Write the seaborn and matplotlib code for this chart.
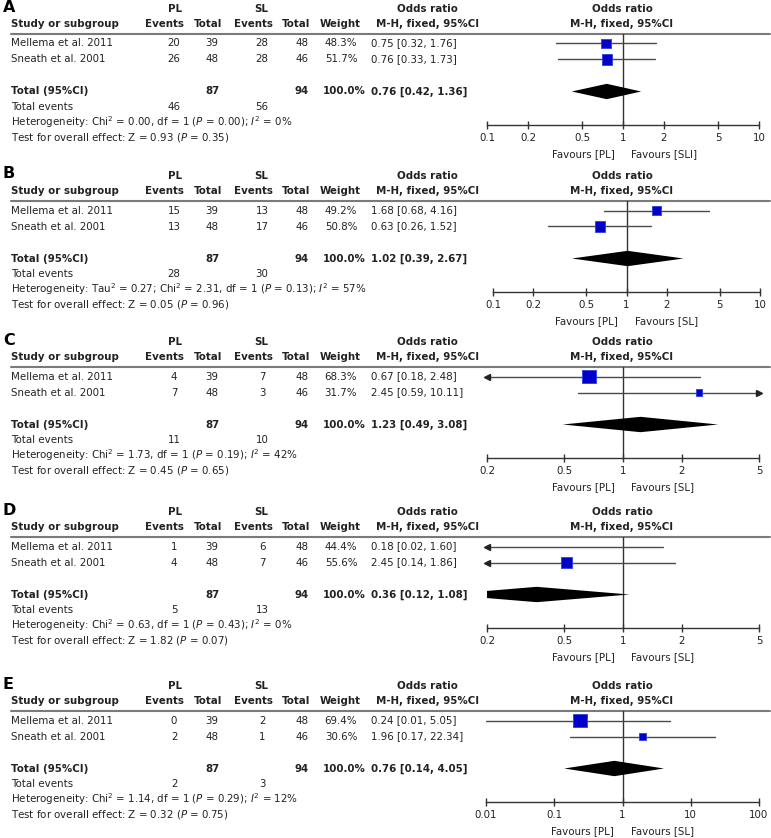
import numpy as np
import pandas as pd
import seaborn as sns
import matplotlib.pyplot as plt
from matplotlib.ticker import FixedLocator, FixedFormatter, NullLocator

# -------- data --------
panels = ["A", "B", "C", "D", "E"]
studies = ["Mellema et al. 2011", "Sneath et al. 2001"]
pl_total = [39, 48]
sl_total = [48, 46]
pl_events = [[20, 26], [15, 13], [4, 7], [1, 4], [0, 2]]
sl_events = [[28, 28], [13, 17], [7, 3], [6, 7], [2, 1]]
weights = [[48.3, 51.7], [49.2, 50.8], [68.3, 31.7], [44.4, 55.6], [69.4, 30.6]]
or_est = [[0.75, 0.76], [1.68, 0.63], [0.67, 2.45], [0.18, 0.51], [0.24, 1.96]]
ci_lo = [[0.32, 0.33], [0.68, 0.26], [0.18, 0.59], [0.02, 0.14], [0.01, 0.17]]
ci_hi = [[1.76, 1.73], [4.16, 1.52], [2.48, 10.11], [1.60, 1.86], [5.05, 22.34]]
or_labels = [["0.75 [0.32, 1.76]", "0.76 [0.33, 1.73]"],
             ["1.68 [0.68, 4.16]", "0.63 [0.26, 1.52]"],
             ["0.67 [0.18, 2.48]", "2.45 [0.59, 10.11]"],
             ["0.18 [0.02, 1.60]", "2.45 [0.14, 1.86]"],
             ["0.24 [0.01, 5.05]", "1.96 [0.17, 22.34]"]]
tot_or = [0.76, 1.02, 1.23, 0.36, 0.76]
tot_lo = [0.42, 0.39, 0.49, 0.12, 0.14]
tot_hi = [1.36, 2.67, 3.08, 1.08, 4.05]
tot_events_pl = [46, 28, 11, 5, 2]
tot_events_sl = [56, 30, 10, 13, 3]
n_pl, n_sl = 87, 94
het_text = [
    r"Heterogeneity: Chi$^2$ = 0.00, df = 1 ($\mathit{P}$ = 0.00); $\mathit{I}^2$ = 0%",
    r"Heterogeneity: Tau$^2$ = 0.27; Chi$^2$ = 2.31, df = 1 ($\mathit{P}$ = 0.13); $\mathit{I}^2$ = 57%",
    r"Heterogeneity: Chi$^2$ = 1.73, df = 1 ($\mathit{P}$ = 0.19); $\mathit{I}^2$ = 42%",
    r"Heterogeneity: Chi$^2$ = 0.63, df = 1 ($\mathit{P}$ = 0.43); $\mathit{I}^2$ = 0%",
    r"Heterogeneity: Chi$^2$ = 1.14, df = 1 ($\mathit{P}$ = 0.29); $\mathit{I}^2$ = 12%",
]
test_text = [
    r"Test for overall effect: Z = 0.93 ($\mathit{P}$ = 0.35)",
    r"Test for overall effect: Z = 0.05 ($\mathit{P}$ = 0.96)",
    r"Test for overall effect: Z = 0.45 ($\mathit{P}$ = 0.65)",
    r"Test for overall effect: Z = 1.82 ($\mathit{P}$ = 0.07)",
    r"Test for overall effect: Z = 0.32 ($\mathit{P}$ = 0.75)",
]
fav_right = ["Favours [SLI]", "Favours [SL]", "Favours [SL]", "Favours [SL]", "Favours [SL]"]
xlims = [(0.1, 10), (0.1, 10), (0.2, 5), (0.2, 5), (0.01, 100)]
ticks = [[0.1, 0.2, 0.5, 1, 2, 5, 10], [0.1, 0.2, 0.5, 1, 2, 5, 10],
         [0.2, 0.5, 1, 2, 5], [0.2, 0.5, 1, 2, 5], [0.01, 0.1, 1, 10, 100]]
tick_labels = [["0.1", "0.2", "0.5", "1", "2", "5", "10"], ["0.1", "0.2", "0.5", "1", "2", "5", "10"],
               ["0.2", "0.5", "1", "2", "5"], ["0.2", "0.5", "1", "2", "5"],
               ["0.01", "0.1", "1", "10", "100"]]

# -------- layout (pixels) --------
W, H = 771, 838
line_y = [34, 201, 367, 537, 711]
plot_left = [487, 493, 487, 487, 486]
plot_right = [759, 760, 759, 759, 759]
row0, row_h = 9.5, 16.0
axis_off = 91
FS = 7.4
TXT = "#222222"

sns.set_theme(style="white")
plt.rcParams["font.family"] = ["DejaVu Sans"]
plt.rcParams["mathtext.fontset"] = "dejavusans"

fig = plt.figure(figsize=(W / 100, H / 100), dpi=100)
bg = fig.add_axes([0, 0, 1, 1])
bg.set_xlim(0, W)
bg.set_ylim(H, 0)
bg.axis("off")


def rowy(p, idx):
    return line_y[p] + row0 + row_h * idx


for p, letter in enumerate(panels):
    L = line_y[p]
    kw = dict(fontsize=FS, color=TXT, va="center")
    bkw = dict(kw, fontweight="bold")
    bg.text(3, L - 27, letter, fontsize=11.5, fontweight="bold", va="center", color="black")
    bg.text(175, L - 25, "PL", ha="center", **bkw)
    bg.text(261, L - 25, "SL", ha="center", **bkw)
    bg.text(427, L - 25, "Odds ratio", ha="center", **bkw)
    bg.text(622, L - 25, "Odds ratio", ha="center", **bkw)
    bg.text(11, L - 10, "Study or subgroup", ha="left", **bkw)
    bg.text(164, L - 10, "Events", ha="center", **bkw)
    bg.text(208, L - 10, "Total", ha="center", **bkw)
    bg.text(253, L - 10, "Events", ha="center", **bkw)
    bg.text(296, L - 10, "Total", ha="center", **bkw)
    bg.text(340, L - 10, "Weight", ha="center", **bkw)
    bg.text(428, L - 10, "M-H, fixed, 95%CI", ha="center", **bkw)
    bg.text(622, L - 10, "M-H, fixed, 95%CI", ha="center", **bkw)
    bg.plot([11, 770], [L, L], color="#7a7a7a", lw=1.5)

    for i, s in enumerate(studies):
        y = rowy(p, i)
        bg.text(11, y, s, ha="left", **kw)
        bg.text(174, y, str(pl_events[p][i]), ha="center", **kw)
        bg.text(212, y, str(pl_total[i]), ha="center", **kw)
        bg.text(262, y, str(sl_events[p][i]), ha="center", **kw)
        bg.text(302, y, str(sl_total[i]), ha="center", **kw)
        bg.text(341, y, f"{weights[p][i]:.1f}%", ha="center", **kw)
        bg.text(371, y, or_labels[p][i], ha="left", **kw)

    y = rowy(p, 3)
    bg.text(11, y, "Total (95%CI)", ha="left", **bkw)
    bg.text(212, y, str(n_pl), ha="center", **bkw)
    bg.text(302, y, str(n_sl), ha="center", **bkw)
    bg.text(344, y, f"{sum(weights[p]):.1f}%", ha="center", **bkw)
    bg.text(371, y, f"{tot_or[p]:.2f} [{tot_lo[p]:.2f}, {tot_hi[p]:.2f}]", ha="left", **bkw)
    y = rowy(p, 3.95)
    bg.text(11, y, "Total events", ha="left", **kw)
    bg.text(174, y, str(tot_events_pl[p]), ha="center", **kw)
    bg.text(262, y, str(tot_events_sl[p]), ha="center", **kw)
    bg.text(11, rowy(p, 4.9), het_text[p], ha="left", **kw)
    bg.text(11, rowy(p, 5.9), test_text[p], ha="left", **kw)

    # forest plot axes
    x0, x1 = plot_left[p], plot_right[p]
    ax = fig.add_axes([x0 / W, 1 - (L + axis_off) / H, (x1 - x0) / W, axis_off / H])
    ax.set_facecolor("none")
    ax.set_xscale("log")
    lo_lim, hi_lim = xlims[p]
    ax.set_xlim(lo_lim, hi_lim)
    ax.set_ylim((axis_off - row0) / row_h, -row0 / row_h)

    df = pd.DataFrame({"or": or_est[p], "lo": ci_lo[p], "hi": ci_hi[p],
                       "w": weights[p], "row": [0, 1]})
    for _, r in df.iterrows():
        a, b = max(r["lo"], lo_lim), min(r["hi"], hi_lim)
        ax.plot([a, b], [r["row"], r["row"]], color="#4a4a4a", lw=1.0, zorder=2)
        if r["lo"] < lo_lim:
            ax.plot(lo_lim, r["row"], marker="<", ms=4, color="#222222", clip_on=False, zorder=3)
        if r["hi"] > hi_lim:
            ax.plot(hi_lim, r["row"], marker=">", ms=4, color="#222222", clip_on=False, zorder=3)
    size_map = {w: (0.2 * w * 0.72) ** 2 for w in df["w"]}
    sns.scatterplot(data=df, x="or", y="row", size="w", sizes=size_map, marker="s",
                    color="#0000c8", edgecolor="#2a40e0", linewidth=0.6, legend=False,
                    ax=ax, zorder=4)

    ax.fill([tot_lo[p], tot_or[p], tot_hi[p], tot_or[p]],
            [3, 3 - 0.48, 3, 3 + 0.48], color="black", lw=0, zorder=4)
    ax.axvline(1, color="#333333", lw=1.0, zorder=1)

    for sp in ["top", "left", "right"]:
        ax.spines[sp].set_visible(False)
    ax.spines["bottom"].set_color("#333333")
    ax.spines["bottom"].set_linewidth(1.0)
    ax.xaxis.set_major_locator(FixedLocator(ticks[p]))
    ax.xaxis.set_major_formatter(FixedFormatter(tick_labels[p]))
    ax.xaxis.set_minor_locator(NullLocator())
    ax.tick_params(axis="x", direction="inout", length=6, width=1.0, color="#333333",
                   labelsize=FS, labelcolor=TXT, pad=3, bottom=True)
    ax.set_yticks([])
    ax.set_xlabel("")
    ax.set_ylabel("")
    ax.annotate("Favours [PL]", xy=(1, 0), xycoords=("data", "axes fraction"),
                xytext=(-6, -21), textcoords="offset points", ha="right", va="center",
                fontsize=FS, color=TXT)
    ax.annotate(fav_right[p], xy=(1, 0), xycoords=("data", "axes fraction"),
                xytext=(6, -21), textcoords="offset points", ha="left", va="center",
                fontsize=FS, color=TXT)

fig.savefig("out.png", dpi=100, facecolor="white")
